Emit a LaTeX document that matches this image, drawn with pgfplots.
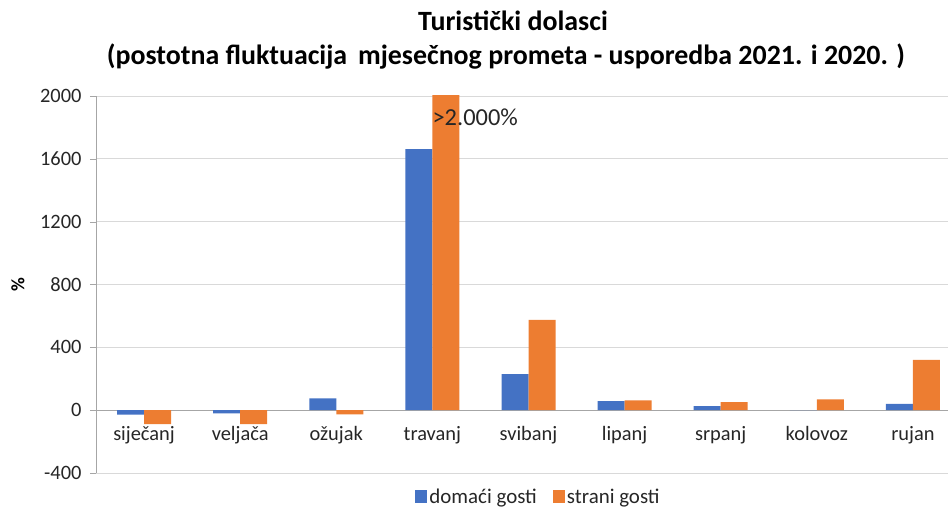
\documentclass[border=0pt]{standalone}
\usepackage{pgfplots}
\pgfplotsset{compat=1.18}
\usepackage{fontspec}
\setmainfont{Carlito}
\definecolor{cblue}{HTML}{4472C4}
\definecolor{corange}{HTML}{ED7D31}
\definecolor{gridc}{HTML}{D9D9D9}
\definecolor{axc}{HTML}{A6A6A6}
\begin{document}
\begin{tikzpicture}
\useasboundingbox (-96bp,-37bp) rectangle (852bp,473bp);
\begin{axis}[
  name=ax, at={(0,0)}, anchor=south west,
  scale only axis, width=865bp, height=377bp,
  ybar=0pt, bar width=27bp,
  xmin=-0.5, xmax=8.5, ymin=-400, ymax=2000,
  ytick={-400,0,400,800,1200,1600,2000},
  xtick={0,1,2,3,4,5,6,7,8},
  xticklabels={siječanj,veljača,ožujak,travanj,svibanj,lipanj,srpanj,kolovoz,rujan},
  axis x line*=middle, axis y line*=left,
  hide obscured y ticks=false, hide obscured x ticks=false,
  x axis line style={draw=axc, line width=0.8pt, -},
  y axis line style={draw=axc, -},
  xtick style={draw=none},
  ytick style={draw=axc},
  tick align=outside, major tick length=6bp,
  ymajorgrids, grid style={draw=gridc, line width=0.8pt},
  /pgf/number format/assume math mode=true,
  /pgf/number format/1000 sep={},
  tick label style={font=\fontsize{20.5}{23}\selectfont, text=black!85},
  xticklabel style={yshift=-7bp},
  yticklabel style={xshift=-5bp},
  ylabel={\textbf{\%}},
  every axis y label/.style={at={(axis description cs:-0.0902,0.5)}, rotate=90, anchor=center, font=\fontsize{19}{22}\selectfont},
  legend style={at={(axis description cs:0.5116,-0.0637)}, anchor=center, draw=none, fill=none,
    legend columns=2, font=\fontsize{21}{23}\selectfont, text=black!85,
    /tikz/every even column/.append style={column sep=14bp}},
  legend image code/.code={\fill[#1] (0bp,-6bp) rectangle (12bp,7bp);},
]
\addplot[fill=cblue, draw=none] coordinates {(0,-28) (1,-21) (2,75) (3,1662) (4,230) (5,57) (6,25) (7,0) (8,40)};
\addplot[fill=corange, draw=none] coordinates {(0,-89) (1,-89) (2,-27) (3,2500) (4,575) (5,63) (6,51) (7,69) (8,320)};
\legend{domaći gosti, strani gosti}
\node[anchor=west, font=\fontsize{24.5}{26}\selectfont, text=black!85, inner sep=0pt] at (axis cs:3,1866) {>2.000\%};
\end{axis}
\node[font=\bfseries\fontsize{28}{30}\selectfont] at (417bp,452bp) {Turistički dolasci};
\node[font=\bfseries\fontsize{28}{30}\selectfont] at (410bp,416bp) {(postotna fluktuacija\, mjesečnog prometa - usporedba 2021. i 2020. )};
\end{tikzpicture}
\end{document}
